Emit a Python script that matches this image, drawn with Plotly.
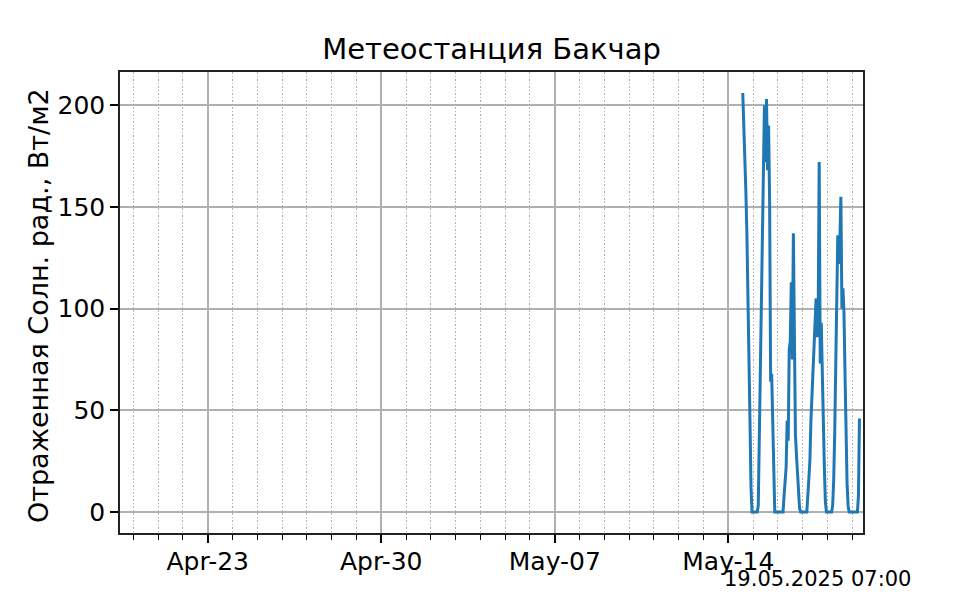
import pandas as pd
import plotly.graph_objects as go

# Hourly reflected solar radiation, W/m2
may14 = [206, 192, 176, 158, 137, 112, 80, 45, 12, 0]          # 14:00-23:00
may15 = [0, 0, 0, 0, 0, 3, 35, 70, 105, 140, 178, 200, 172, 203, 168, 190, 153, 64, 68, 38, 10, 0, 0, 0]
may16 = [0, 0, 0, 0, 0, 0, 8, 18, 22, 45, 35, 80, 84, 113, 75, 137, 92, 38, 28, 20, 10, 2, 0, 0]
may17 = [0, 0, 0, 0, 0, 8, 18, 25, 45, 58, 71, 88, 92, 105, 86, 95, 172, 73, 93, 62, 40, 22, 5, 0]
may18 = [0, 0, 0, 0, 0, 3, 15, 38, 79, 118, 136, 122, 133, 155, 100, 110, 98, 68, 38, 14, 3, 0, 0, 0]
may19 = [0, 0, 0, 0, 0, 0, 8, 46]                               # 00:00-07:00

values = may14 + may15 + may16 + may17 + may18 + may19
times = pd.date_range("2025-05-14 14:00", periods=len(values), freq="h")

tick_vals = ["2025-04-23", "2025-04-30", "2025-05-07", "2025-05-14"]
tick_text = ["Apr-23", "Apr-30", "May-07", "May-14"]
y_ticks = [0, 50, 100, 150, 200]

title_text = "Метеостанция Бакчар"
ylabel_text = "Отраженная Солн. рад., Вт/м2"
stamp_text = "19.05.2025 07:00"

FONT = "DejaVu Sans"
GRID = "#b0b0b0"
OFF = 8  # page body margin offset in the browser

# plot area in page pixels: x 120..863, y 72..533
L, R, T, B = 120, 863, 72, 533
PW, PH = R - L, B - T

fig = go.Figure()
fig.add_trace(go.Scatter(x=times, y=values, mode="lines",
                         line=dict(color="#1f77b4", width=3),
                         showlegend=False))

fig.update_layout(
    width=960, height=600,
    margin=dict(l=L - OFF, r=960 - (L - OFF) - PW, t=T - OFF,
                b=600 - (T - OFF) - PH, autoexpand=False),
    paper_bgcolor="white", plot_bgcolor="white",
    font=dict(family=FONT, color="black", size=24),
    title=dict(text=title_text, x=(491.5 - OFF) / 960, xanchor="center",
               y=1 - (49 - OFF) / 600, yanchor="middle",
               font=dict(size=29, family=FONT)),
)

fig.update_xaxes(
    type="date",
    range=["2025-04-19 11:05", "2025-05-19 10:25"],
    tickmode="array", tickvals=tick_vals, ticktext=tick_text,
    ticks="outside", ticklen=8, tickwidth=1.5, tickcolor="black",
    tickfont=dict(size=25, family=FONT), ticklabelstandoff=-3,
    showgrid=True, gridcolor=GRID, gridwidth=1.5,
    showline=True, linecolor="#222222", linewidth=1.5, mirror=True,
    zeroline=False,
    minor=dict(dtick=86400000, tick0="2025-04-20", ticks="outside", ticklen=5,
               tickwidth=1, tickcolor="black", showgrid=True, griddash="1.5px,2px",
               gridcolor=GRID, gridwidth=1.3),
)

fig.update_yaxes(
    range=[-10.3, 216.3],
    tickmode="array", tickvals=y_ticks,
    ticks="outside", ticklen=8, tickwidth=1.5, tickcolor="black",
    tickfont=dict(size=25, family=FONT),
    showgrid=True, gridcolor=GRID, gridwidth=1.5,
    showline=True, linecolor="#222222", linewidth=1.5, mirror=True,
    zeroline=False,
)

fig.add_annotation(text=ylabel_text, textangle=-90, xref="paper", yref="paper",
                   x=(38 - L) / PW, y=(B - 306) / PH, xanchor="center",
                   yanchor="middle", showarrow=False, font=dict(size=27, family=FONT))

fig.add_annotation(text=stamp_text, xref="paper", yref="paper",
                   x=(913 - L) / PW, y=(B - 579) / PH, xanchor="right",
                   yanchor="middle", showarrow=False, font=dict(size=21, family=FONT))

fig.write_html("out.html")
